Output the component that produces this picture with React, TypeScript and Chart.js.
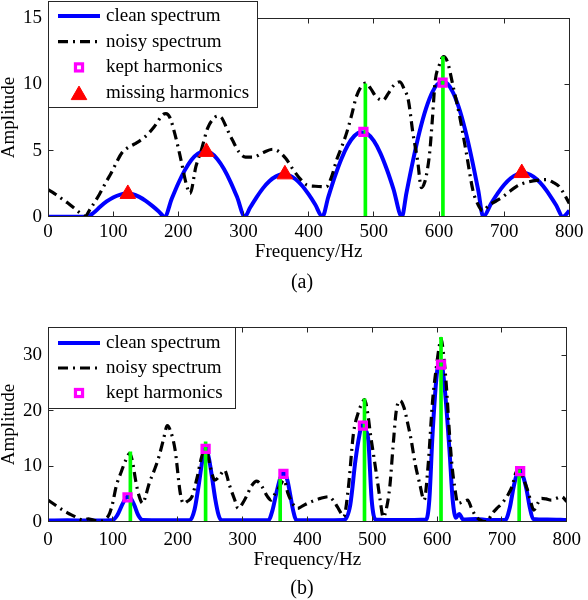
import React, { useEffect, useRef } from 'react';
import { Chart, registerables } from 'chart.js';

Chart.register(...registerables);

const FONT = '"Liberation Serif", "Times New Roman", "DejaVu Serif", serif';

// ---------- shared labels / axes ----------
const seriesLabels = ['clean spectrum', 'noisy spectrum', 'kept harmonics', 'missing harmonics'];
const xAxisTitle = 'Frequency/Hz';
const yAxisTitle = 'Amplitude';
const xMin = 0;
const xMax = 800;
const xStep = 100;

// ---------- panel (a) ----------
const aYMax = 15;
const aYStep = 5;
const aCleanFreq = [0, 20, 40, 55, 60, 70, 80, 90, 100, 110, 120, 130, 140, 150, 160, 170, 179,
  190, 200, 210, 220, 230, 240, 250, 260, 270, 280, 290, 302,
  310, 320, 330, 340, 350, 360, 370, 380, 390, 400, 410, 421,
  430, 440, 450, 460, 470, 480, 490, 500, 510, 520, 530, 543,
  550, 560, 570, 580, 590, 600, 610, 620, 630, 640, 650, 660, 668,
  680, 690, 700, 710, 720, 730, 740, 750, 760, 770, 780, 790, 800];
const aCleanAmp = [0, 0, 0, 0, 0, 0.3, 0.75, 1.15, 1.45, 1.65, 1.75, 1.7, 1.5, 1.2, 0.82, 0.4, 0,
  1.37, 2.53, 3.52, 4.29, 4.77, 4.95, 4.81, 4.35, 3.61, 2.64, 1.5, 0,
  0.67, 1.46, 2.16, 2.7, 3.05, 3.2, 3.12, 2.83, 2.34, 1.68, 0.92, 0,
  1.47, 3.01, 4.35, 5.4, 6.1, 6.39, 6.27, 5.73, 4.81, 3.57, 2.11, 0,
  1.79, 4.22, 6.4, 8.17, 9.44, 10.1, 10.14, 9.53, 8.32, 6.59, 4.45, 2.04, 0,
  1.0, 1.77, 2.42, 2.91, 3.21, 3.3, 3.17, 2.83, 2.3, 1.62, 0.85, 0, 0.45];

const aNoisyFreq = [0, 10, 20, 30, 40, 50, 57, 65, 79, 90,
  97, 105, 113, 122, 133, 148, 163, 176, 181, 187,
  196, 204, 212, 218, 227, 235, 245, 252, 260, 266,
  275, 283, 293, 303, 315, 330, 345, 355, 365, 377,
  388, 397, 410, 427, 435, 443, 450, 458, 466, 473,
  480, 488, 495, 503, 514, 522, 530, 540, 547, 553,
  560, 567, 573, 578, 582, 586, 590, 594, 600, 607,
  613, 621, 632, 642, 652, 660, 667, 677, 688, 698,
  708, 718, 728, 738, 750, 764, 775, 784, 791, 800];
const aNoisyAmp = [2.05, 1.75, 1.4, 1.05, 0.65, 0.25, 0.05, 0.6, 1.7, 2.7,
  3.3, 4.1, 4.8, 5.2, 5.5, 6.0, 6.8, 7.7, 7.8, 7.5,
  6.0, 4.3, 2.5, 1.75, 3.8, 5.0, 6.7, 7.3, 7.6, 7.5,
  6.6, 5.8, 4.9, 4.5, 4.5, 4.85, 5.1, 4.9, 4.4, 3.5,
  2.8, 2.4, 2.3, 2.26, 3.0, 4.3, 5.2, 6.3, 7.7, 9.05,
  9.8, 10.1, 9.7, 9.1, 8.8, 9.3, 9.9, 10.2, 9.6, 8.8,
  6.3, 4.3, 2.2, 2.6, 3.5, 5.0, 7.5, 10.2, 11.4, 12.1,
  11.7, 10.0, 7.5, 4.8, 2.0, 0.9, 0.45, 0.88, 1.2, 1.5,
  1.9, 2.26, 2.5, 2.64, 2.75, 2.8, 2.6, 2.3, 1.8, 1.0];

const aStemFreq = [487, 606];
const aStemAmp = [10.05, 12.1];
const aKeptFreq = [484, 605.5];
const aKeptAmp = [6.41, 10.13];
const aMissFreq = [122.5, 243, 363.5, 727];
const aMissAmp = [1.72, 4.9, 3.2, 3.3];

// ---------- panel (b) ----------
const bYMax = 35;
const bYStep = 10;
const bCleanFreq = [0, 30, 60, 95, 100, 107, 115, 122, 127, 133,
  139, 146, 180, 219, 226, 232, 238, 243, 248, 252,
  258, 263, 267, 300, 340, 346, 352, 358, 363, 369,
  374, 378, 383, 420, 456, 466, 474, 480, 485, 490,
  494, 499, 505, 540, 583, 588, 593, 601, 606, 611,
  619, 624, 629, 634, 640, 660, 680, 705, 712, 718,
  723, 728, 733, 738, 743, 748, 770, 800];
const bCleanAmp = [0.2, 0.25, 0.2, 0.25, 0.3, 1.2, 3.2, 4.5, 4.3, 3.0,
  1.2, 0.3, 0.25, 0.3, 2.2, 6.3, 11.0, 13.3, 11.5, 8.7,
  4.0, 1.2, 0.3, 0.25, 0.3, 2.0, 5.1, 7.8, 8.8, 7.5,
  4.5, 2.0, 0.3, 0.25, 0.3, 3.0, 11.0, 15.5, 17.8, 16.5,
  14.5, 4.0, 0.4, 0.3, 0.4, 4.0, 15.9, 27.8, 28.6, 24.9,
  12.9, 3.9, 0.7, 1.4, 0.4, 0.5, 0.3, 0.3, 2.5, 6.3,
  8.6, 9.2, 8.0, 5.7, 2.5, 0.5, 0.4, 0.3];

const bNoisyFreq = [0, 10, 20, 30, 40, 48, 55, 62, 70, 79,
  88, 95, 100, 105, 113, 120, 126, 130, 135, 140,
  146, 151, 156, 164, 171, 178, 184, 189, 196, 204,
  209, 214, 222, 230, 237, 243, 250, 257, 265, 272,
  280, 288, 293, 300, 307, 313, 322, 330, 338, 344,
  350, 357, 364, 370, 377, 385, 392, 400, 410, 420,
  433, 440, 446, 452, 456, 463, 471, 478, 484, 488,
  493, 497, 502, 507, 512, 517, 522, 527, 532, 537,
  543, 549, 555, 560, 566, 573, 580, 586, 593, 599,
  603, 606, 610, 614, 619, 623, 627, 632, 640, 647,
  653, 660, 668, 676, 685, 692, 700, 710, 716, 721,
  727, 732, 737, 741, 745, 749, 755, 761, 768, 776,
  784, 792, 800];
const bNoisyAmp = [3.9, 3.1, 2.3, 1.6, 1.0, 0.5, 0.3, 0.5, 0.3, 0.1,
  0.4, 1.5, 3.5, 6.3, 9.0, 11.1, 12.3, 11.0, 7.5, 4.8,
  3.3, 4.8, 6.9, 9.3, 11.7, 14.8, 17.3, 16.3, 12.9, 5.1,
  3.3, 3.6, 4.5, 8.0, 11.7, 13.4, 10.0, 7.5, 8.3, 9.3,
  6.5, 3.9, 2.4, 3.3, 4.8, 6.3, 7.3, 6.3, 4.6, 3.9,
  5.0, 6.3, 7.5, 5.1, 3.3, 2.4, 2.8, 3.3, 3.8, 4.2,
  4.5, 3.8, 2.7, 1.5, 0.9, 6.0, 15.9, 19.5, 21.3, 22.0,
  19.5, 15.9, 12.0, 8.1, 4.0, 0.8, 2.5, 6.3, 13.5, 20.0,
  21.8, 20.5, 17.5, 14.7, 10.5, 6.9, 3.9, 10.0, 21.8, 28.0,
  31.4, 33.0, 30.0, 24.8, 15.9, 10.0, 6.3, 3.3, 3.6, 3.9,
  2.4, 0.9, 0.2, 0.0, 1.5, 2.4, 3.3, 5.0, 6.5, 8.7,
  9.5, 8.0, 6.5, 5.1, 3.3, 2.1, 3.3, 4.2, 4.1, 3.9,
  4.2, 4.5, 3.6];

const bStemFreq = [127, 243, 358, 488, 606, 726.5];
const bStemAmp = [12.6, 14.4, 8.0, 22.1, 33.2, 9.4];
const bKeptFreq = [122.6, 243, 363, 485.5, 606, 728];
const bKeptAmp = [4.4, 13.1, 8.6, 17.3, 28.3, 9.1];

// ---------- styles ----------
const CLEAN_COLOR = '#0000ff';
const CLEAN_W = 4;
const NOISY_COLOR = '#000000';
const NOISY_W = 3.2;
const NOISY_DASH = [10, 5, 2, 5];
const STEM_COLOR = '#00ff00';
const KEPT_COLOR = '#ff00ff';
const MISS_COLOR = '#ff0000';
const KEPT_R = 5;
const KEPT_BW = 3.2;
const MISS_R = 9;
const FRAME_COLOR = '#262626';

const pts = (f: number[], a: number[]) => f.map((x, i) => ({ x, y: a[i] }));

function drawRectMarker(ctx: CanvasRenderingContext2D, x: number, y: number) {
  const s = Math.SQRT1_2 * KEPT_R;
  ctx.setLineDash([]);
  ctx.strokeStyle = KEPT_COLOR;
  ctx.lineWidth = KEPT_BW;
  ctx.strokeRect(x - s, y - s, 2 * s, 2 * s);
}

function drawTriMarker(ctx: CanvasRenderingContext2D, x: number, y: number) {
  const r = MISS_R;
  ctx.setLineDash([]);
  ctx.beginPath();
  ctx.moveTo(x, y - r);
  ctx.lineTo(x + r * 0.866, y + r / 2);
  ctx.lineTo(x - r * 0.866, y + r / 2);
  ctx.closePath();
  ctx.fillStyle = MISS_COLOR;
  ctx.fill();
  ctx.strokeStyle = MISS_COLOR;
  ctx.lineWidth = 1;
  ctx.stroke();
}

const decorPlugin = {
  id: 'decor',
  afterDraw(chart: any, _args: any, opts: any) {
    const ctx: CanvasRenderingContext2D = chart.ctx;
    const a = chart.chartArea;
    const xs = chart.scales.x;
    const ys = chart.scales.y;
    const TL = 5;
    ctx.save();
    const L = Math.floor(a.left) + 0.5;
    const R = Math.floor(a.right) + 0.5;
    const T = Math.floor(a.top) + 0.5;
    const B = Math.floor(a.bottom) + 0.5;
    ctx.strokeStyle = FRAME_COLOR;
    ctx.lineWidth = 1;
    ctx.setLineDash([]);
    ctx.beginPath();
    xs.ticks.forEach((t: any) => {
      const px = Math.floor(xs.getPixelForValue(t.value)) + 0.5;
      ctx.moveTo(px, B);
      ctx.lineTo(px, B - TL);
      ctx.moveTo(px, T);
      ctx.lineTo(px, T + TL);
    });
    ys.ticks.forEach((t: any) => {
      const py = Math.floor(ys.getPixelForValue(t.value)) + 0.5;
      ctx.moveTo(L, py);
      ctx.lineTo(L + TL, py);
      ctx.moveTo(R, py);
      ctx.lineTo(R - TL, py);
    });
    ctx.stroke();
    ctx.strokeRect(L, T, R - L, B - T);

    // legend
    const lg = opts.legend;
    ctx.fillStyle = '#ffffff';
    ctx.fillRect(lg.x, lg.y, lg.w, lg.h);
    ctx.strokeStyle = FRAME_COLOR;
    ctx.lineWidth = 1;
    ctx.strokeRect(lg.x + 0.5, lg.y + 0.5, lg.w, lg.h);
    ctx.font = `19px ${FONT}`;
    ctx.textBaseline = 'middle';
    ctx.textAlign = 'left';
    lg.items.forEach((it: any, i: number) => {
      const cy = lg.y + lg.y0 + i * lg.gap;
      if (it.kind === 'line') {
        ctx.beginPath();
        ctx.setLineDash(it.dash || []);
        ctx.strokeStyle = it.color;
        ctx.lineWidth = it.width;
        ctx.moveTo(lg.x + 10, cy);
        ctx.lineTo(lg.x + 52, cy);
        ctx.stroke();
        ctx.setLineDash([]);
      } else if (it.kind === 'rect') {
        drawRectMarker(ctx, lg.x + 31, cy);
      } else {
        drawTriMarker(ctx, lg.x + 31, cy + 2);
      }
      ctx.fillStyle = '#000000';
      ctx.fillText(it.label, lg.x + 58, cy);
    });

    // caption
    ctx.font = `20px ${FONT}`;
    ctx.textAlign = 'center';
    ctx.textBaseline = 'middle';
    ctx.fillStyle = '#000000';
    ctx.fillText(opts.caption.text, opts.caption.x, opts.caption.y);
    ctx.restore();
  },
};

function buildConfig(spec: any) {
  const datasets: any[] = [
    {
      type: 'line', label: seriesLabels[0], data: pts(spec.cleanF, spec.cleanA),
      borderColor: CLEAN_COLOR, borderWidth: CLEAN_W, pointRadius: 0,
      cubicInterpolationMode: 'monotone', fill: false, order: 5,
    },
    {
      type: 'line', label: seriesLabels[1], data: pts(spec.noisyF, spec.noisyA),
      borderColor: NOISY_COLOR, borderWidth: NOISY_W, borderDash: NOISY_DASH, pointRadius: 0,
      cubicInterpolationMode: 'monotone', fill: false, order: 4,
    },
    {
      type: 'bar', label: 'stems', data: pts(spec.stemF, spec.stemA),
      backgroundColor: STEM_COLOR, borderWidth: 0, barThickness: 3, order: 3,
    },
    {
      type: 'line', label: seriesLabels[2], data: pts(spec.keptF, spec.keptA), showLine: false,
      pointStyle: 'rect', pointRadius: KEPT_R, pointBorderWidth: KEPT_BW,
      pointBorderColor: KEPT_COLOR, pointBackgroundColor: 'rgba(0,0,0,0)', order: 2,
    },
  ];
  const items: any[] = [
    { label: seriesLabels[0], kind: 'line', color: CLEAN_COLOR, width: CLEAN_W },
    { label: seriesLabels[1], kind: 'line', color: NOISY_COLOR, width: NOISY_W, dash: NOISY_DASH },
    { label: seriesLabels[2], kind: 'rect' },
  ];
  if (spec.missF) {
    datasets.push({
      type: 'line', label: seriesLabels[3], data: pts(spec.missF, spec.missA), showLine: false,
      pointStyle: 'triangle', pointRadius: MISS_R, pointBorderWidth: 1,
      pointBorderColor: MISS_COLOR, pointBackgroundColor: MISS_COLOR, order: 1,
    });
    items.push({ label: seriesLabels[3], kind: 'triangle' });
  }
  const yStep = spec.yStep;
  return {
    type: 'line',
    data: { datasets },
    plugins: [decorPlugin],
    options: {
      responsive: false,
      maintainAspectRatio: false,
      animation: false,
      devicePixelRatio: 1,
      events: [],
      layout: { padding: { top: spec.padTop, right: spec.padRight, left: 0, bottom: 0 } },
      plugins: {
        legend: { display: false },
        tooltip: { enabled: false },
        decor: { legend: { ...spec.legend, items }, caption: spec.caption },
      },
      scales: {
        x: {
          type: 'linear', min: xMin, max: xMax, offset: false,
          grid: { display: false, drawTicks: false },
          border: { display: false },
          ticks: {
            stepSize: xStep, color: '#000', maxRotation: 0, autoSkip: false,
            padding: spec.xTickPad, font: { family: FONT, size: 19 },
          },
          title: {
            display: true, text: xAxisTitle, color: '#000',
            font: { family: FONT, size: 19 }, padding: { top: 0, bottom: spec.xTitlePad },
          },
          afterFit: (s: any) => { s.height = spec.xHeight; },
        },
        y: {
          type: 'linear', min: 0, max: spec.yMax,
          grid: { display: false, drawTicks: false },
          border: { display: false },
          ticks: {
            stepSize: yStep, color: '#000', padding: 6,
            font: { family: FONT, size: 19 },
          },
          afterBuildTicks: (s: any) => { s.ticks = s.ticks.filter((t: any) => t.value % yStep === 0); },
          title: {
            display: true, text: yAxisTitle, color: '#000',
            font: { family: FONT, size: 19, lineHeight: 1 }, padding: { top: 0, bottom: 0 },
          },
          afterFit: (s: any) => { s.width = 48; },
        },
      },
    },
  };
}

const specA = {
  cleanF: aCleanFreq, cleanA: aCleanAmp, noisyF: aNoisyFreq, noisyA: aNoisyAmp,
  stemF: aStemFreq, stemA: aStemAmp, keptF: aKeptFreq, keptA: aKeptAmp,
  missF: aMissFreq, missA: aMissAmp, yMax: aYMax, yStep: aYStep,
  padTop: 18.3, padRight: 15.5, xHeight: 83.3, xTickPad: 4.4, xTitlePad: 36.1,
  legend: { x: 48, y: 1, w: 209, h: 106, y0: 15, gap: 25.7 },
  caption: { text: '(a)', x: 302, y: 283 },
};

const specB = {
  cleanF: bCleanFreq, cleanA: bCleanAmp, noisyF: bNoisyFreq, noisyA: bNoisyAmp,
  stemF: bStemFreq, stemA: bStemAmp, keptF: bKeptFreq, keptA: bKeptAmp,
  yMax: bYMax, yStep: bYStep,
  padTop: 27.3, padRight: 15.5, xHeight: 78.3, xTickPad: 6.9, xTitlePad: 28.6,
  legend: { x: 48, y: 27, w: 187, h: 81, y0: 16, gap: 25 },
  caption: { text: '(b)', x: 302, y: 289 },
};

function Panel({ spec, top }: { spec: any; top: number }) {
  const ref = useRef<HTMLCanvasElement | null>(null);
  useEffect(() => {
    let chart: Chart | null = null;
    let cancelled = false;
    const make = () => {
      if (cancelled || !ref.current) return;
      chart = new Chart(ref.current, buildConfig(spec) as any);
    };
    const fonts: any = (document as any).fonts;
    if (fonts && fonts.load) {
      Promise.all([
        fonts.load('19px "Liberation Serif"'),
        fonts.load('20px "Liberation Serif"'),
      ]).then(make, make);
    } else {
      make();
    }
    return () => {
      cancelled = true;
      if (chart) chart.destroy();
    };
  }, [spec]);
  return (
    <canvas
      ref={ref}
      width={588}
      height={300}
      style={{ position: 'absolute', left: 0, top, width: 588, height: 300 }}
    />
  );
}

export default function App() {
  return (
    <div style={{ position: 'absolute', left: 0, top: 0, width: 588, height: 600, background: '#fff', fontFamily: FONT }}>
      <Panel spec={specA} top={0} />
      <Panel spec={specB} top={300} />
    </div>
  );
}
